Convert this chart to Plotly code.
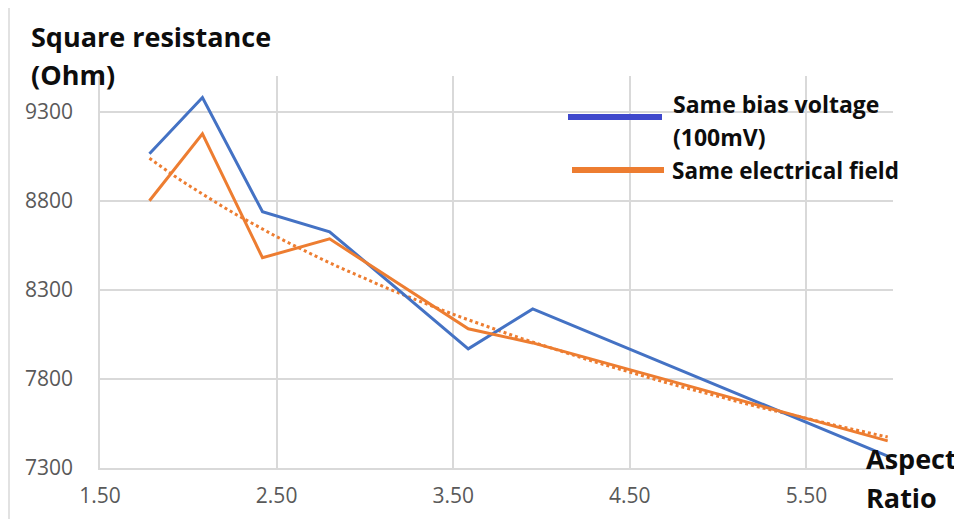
import numpy as np
import plotly.graph_objects as go

# Data
aspect_ratio = [1.78, 2.08, 2.42, 2.80, 3.585, 3.95, 5.96]
same_bias = [9064, 9379, 8738, 8626, 7969, 8193, 7367]
same_field = [8800, 9176, 8480, 8586, 8081, 8002, 7452]
x_ticks = [1.5, 2.5, 3.5, 4.5, 5.5]
x_tick_text = ["1.50", "2.50", "3.50", "4.50", "5.50"]
y_ticks = [7300, 7800, 8300, 8800, 9300]

BLUE = "#4472C4"
ORANGE = "#ED7D31"
LEG_BLUE = "#3F48CC"
TEXT = "#0D0D0D"
GRID = "#D9D9D9"
FONT = "Open Sans"

# logarithmic trendline of the orange series
b, a = np.polyfit(np.log(aspect_ratio), same_field, 1)
trend_x = np.linspace(min(aspect_ratio), max(aspect_ratio), 60)
trend_y = a + b * np.log(trend_x)

fig = go.Figure()
fig.add_trace(go.Scatter(x=trend_x, y=trend_y, mode="lines",
                         line=dict(color=ORANGE, width=3, dash="dot"),
                         showlegend=False, hoverinfo="skip"))
fig.add_trace(go.Scatter(x=aspect_ratio, y=same_bias, mode="lines",
                         name="Same bias voltage (100mV)",
                         line=dict(color=BLUE, width=3), showlegend=False))
fig.add_trace(go.Scatter(x=aspect_ratio, y=same_field, mode="lines",
                         name="Same electrical field",
                         line=dict(color=ORANGE, width=3), showlegend=False))

fig.update_xaxes(range=[1.5, 5.99], tickvals=x_ticks, ticktext=x_tick_text,
                 showgrid=True, gridcolor=GRID, gridwidth=1.5,
                 showline=True, linecolor=GRID, linewidth=1.5, automargin=False,
                 zeroline=False, ticks="outside", ticklen=8, tickcolor="rgba(0,0,0,0)",
                 tickfont=dict(family=FONT, size=21, color="#595959"))
fig.update_yaxes(range=[7300, 9500], tickvals=y_ticks,
                 showgrid=True, gridcolor=GRID, gridwidth=1.5,
                 showline=True, linecolor=GRID, linewidth=1.5, automargin=False,
                 zeroline=False, ticks="outside", ticklen=21, tickcolor="rgba(0,0,0,0)",
                 tickfont=dict(family=FONT, size=21, color="#595959"))

OFF = 8  # page body margin
W, H = 962 - OFF, 519 - OFF
W0, W1, H0, H1 = 100, 893, 76, 468  # page pixel positions of plot area


def px(x):
    return (x - W0) / (W1 - W0)


def py(y):
    return (H1 - y) / (H1 - H0)


labels = [
    ("Square resistance", 29, 36, 27),
    ("(Ohm)", 29, 75, 27),
    ("Same bias voltage", 671, 104, 23),
    ("(100mV)", 671, 137, 23),
    ("Same electrical field", 670, 170, 22.5),
    ("Aspect", 864, 458, 27),
    ("Ratio", 864, 498, 27),
]
ann = []
for text, x, y, size in labels:
    ann.append(dict(text="<b>%s</b>" % text, xref="paper", yref="paper",
                    x=px(x), y=py(y), xanchor="left", yanchor="middle",
                    showarrow=False,
                    font=dict(family=FONT, size=size, color=TEXT)))

shapes = [
    dict(type="line", xref="paper", yref="paper", x0=px(568), x1=px(662),
         y0=py(117), y1=py(117), line=dict(color=LEG_BLUE, width=6)),
    dict(type="line", xref="paper", yref="paper", x0=px(572), x1=px(664),
         y0=py(170), y1=py(170), line=dict(color=ORANGE, width=6)),
    dict(type="rect", xref="paper", yref="paper", x0=px(9), x1=px(975),
         y0=py(530), y1=py(7), line=dict(color=GRID, width=1.5), layer="below"),
]

fig.update_layout(width=W, height=H,
                  margin=dict(l=W0 - OFF, r=962 - W1, t=H0 - OFF, b=519 - H1),
                  plot_bgcolor="white", paper_bgcolor="white",
                  annotations=ann, shapes=shapes, showlegend=False)

fig.write_html("out.html")
